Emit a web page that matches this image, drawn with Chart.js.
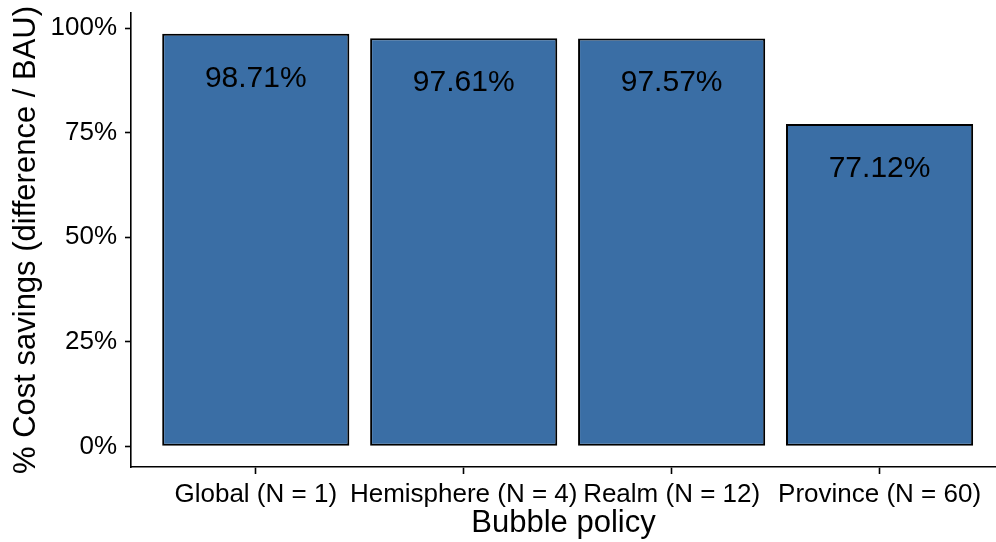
<!DOCTYPE html>
<html>
<head>
<meta charset="utf-8">
<script src="https://cdn.jsdelivr.net/npm/chart.js@4.4.1/dist/chart.umd.min.js"></script>
<style>
  html, body { margin: 0; padding: 0; background: #fff; overflow: hidden; }
  canvas { display: block; }
</style>
</head>
<body>
<canvas id="grafica" width="996" height="542"></canvas>
<script>
// Datos
const categorias = ['Global (N = 1)', 'Hemisphere (N = 4)', 'Realm (N = 12)', 'Province (N = 60)'];
const ahorros = [98.71, 97.61, 97.57, 77.12];
const ticksY = [0, 25, 50, 75, 100];

const fuente = 'Liberation Sans, Arial, Helvetica, sans-serif';
const colorBarra = '#3A6EA5';

// Etiquetas dentro de las barras
const etiquetasBarras = {
    id: 'etiquetasBarras',
    afterDatasetsDraw(chart) {
        const ctx = chart.ctx;
        const meta = chart.getDatasetMeta(0);
        ctx.save();
        ctx.font = '30px ' + fuente;
        ctx.fillStyle = '#000';
        ctx.textAlign = 'center';
        ctx.textBaseline = 'alphabetic';
        meta.data.forEach((barra, i) => {
            ctx.fillText(ahorros[i].toFixed(2) + '%', barra.x, barra.y + 53);
        });
        ctx.restore();
    }
};

new Chart(document.getElementById('grafica').getContext('2d'), {
    type: 'bar',
    data: {
        datasets: [{
            data: ahorros.map((v, i) => ({ x: i, y: v })),
            backgroundColor: colorBarra,
            borderColor: '#000',
            borderWidth: 2,
            borderSkipped: false,
            barPercentage: 0.9,
            categoryPercentage: 1.0
        }]
    },
    options: {
        responsive: false,
        animation: false,
        layout: { padding: { top: 13, right: 0, left: 0, bottom: 0 } },
        plugins: {
            legend: { display: false },
            tooltip: { enabled: false }
        },
        scales: {
            x: {
                type: 'linear',
                offset: false,
                min: -0.6,
                max: 3.56,
                afterBuildTicks: (scale) => { scale.ticks = categorias.map((c, i) => ({ value: i })); },
                afterFit: (scale) => { scale.height = 75; scale.paddingLeft = 0; scale.paddingRight = 0; },
                border: { display: true, color: '#000', width: 1.6 },
                grid: { offset: false, drawOnChartArea: false, drawTicks: true, tickLength: 7, tickColor: '#000', tickWidth: 1.6 },
                ticks: {
                    autoSkip: false,
                    maxRotation: 0,
                    padding: 5,
                    color: '#000',
                    font: { family: fuente, size: 26 },
                    callback: (v) => categorias[v]
                },
                title: {
                    display: true,
                    text: 'Bubble policy',
                    color: '#000',
                    font: { family: fuente, size: 31, lineHeight: 1.2 },
                    padding: { top: 0, bottom: 0 }
                }
            },
            y: {
                min: -4.94,
                max: 103.65,
                afterBuildTicks: (scale) => { scale.ticks = ticksY.map(v => ({ value: v })); },
                afterFit: (scale) => { scale.width = 131; scale.paddingTop = 0; scale.paddingBottom = 0; },
                border: { display: true, color: '#000', width: 1.6 },
                grid: { drawOnChartArea: false, drawTicks: true, tickLength: 6, tickColor: '#000', tickWidth: 1.6 },
                ticks: {
                    padding: 8,
                    color: '#000',
                    font: { family: fuente, size: 26 },
                    callback: (v) => v + '%'
                },
                title: {
                    display: true,
                    text: '% Cost savings (difference / BAU)',
                    color: '#000',
                    font: { family: fuente, size: 31, lineHeight: 1.2 },
                    padding: { top: 8, bottom: 0 }
                }
            }
        }
    },
    plugins: [etiquetasBarras]
});
</script>
</body>
</html>
